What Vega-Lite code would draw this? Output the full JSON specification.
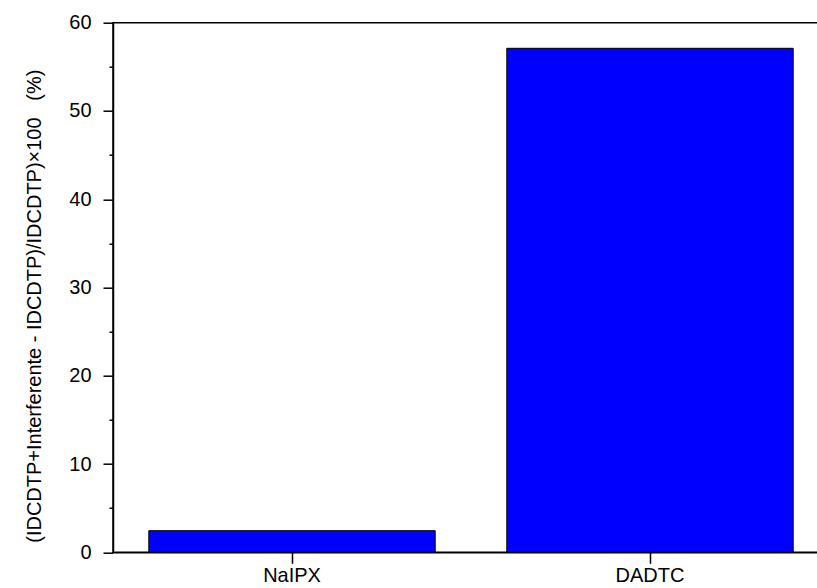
{
  "$schema": "https://vega.github.io/schema/vega-lite/v6.json",
  "autosize": "none",
  "width": 716,
  "height": 529.6,
  "padding": {"left": 113, "top": 22.7, "right": 0, "bottom": 36},
  "background": "white",
  "config": {
    "view": {"stroke": "black", "strokeWidth": 1.5},
    "font": "Liberation Sans",
    "axis": {"labelFont": "Liberation Sans", "titleFont": "Liberation Sans", "labelColor": "black", "titleColor": "black", "domainColor": "black", "tickColor": "black", "domainWidth": 1.5, "tickWidth": 1.5, "grid": false}
  },
  "data": {
    "values": [
      {"compound": "NaIPX", "value": 2.45},
      {"compound": "DADTC", "value": 57.1}
    ]
  },
  "mark": {"type": "bar", "fill": "#0000FF", "stroke": "black", "strokeWidth": 1},
  "encoding": {
    "x": {
      "field": "compound",
      "type": "nominal",
      "sort": null,
      "scale": {"paddingInner": 0.2, "paddingOuter": 0.1},
      "axis": {"title": null, "labelAngle": 0, "labelFontSize": 20, "tickSize": 11, "labelPadding": 2}
    },
    "y": {
      "field": "value",
      "type": "quantitative",
      "scale": {"domain": [0, 60], "nice": false},
      "axis": {
        "values": [0, 5, 10, 15, 20, 25, 30, 35, 40, 45, 50, 55, 60],
        "labelExpr": "datum.value % 10 === 0 ? datum.label : ''",
        "tickSize": {"condition": {"test": "datum.value % 10 === 0", "value": 10}, "value": 4},
        "labelFontSize": 20,
        "labelPadding": 12,
        "title": "(IDCDTP+Interferente - IDCDTP)/IDCDTP)×100\u00a0\u00a0\u00a0(%)",
        "titleFontSize": 20,
        "titleFontWeight": "normal",
        "titlePadding": 24,
        "titleY": 283
      }
    }
  }
}
